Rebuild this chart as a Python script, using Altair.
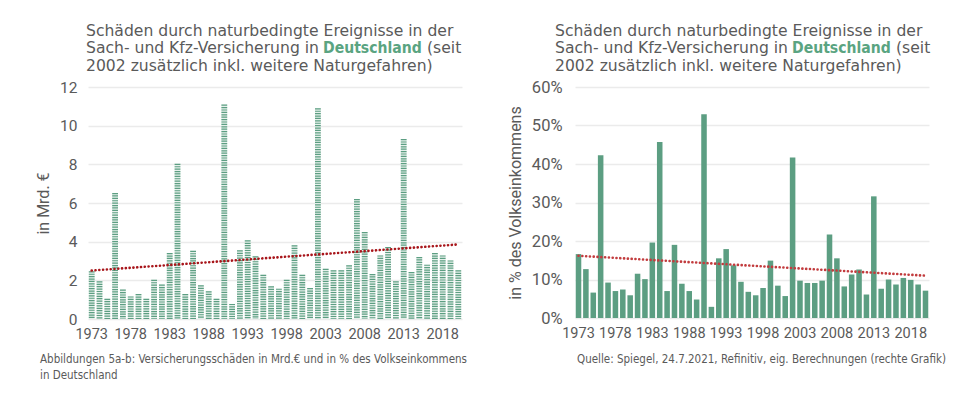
import altair as alt
import pandas as pd

years = list(range(1973, 2021))
schaeden_mrd = [2.47, 1.95, 1.05, 6.52, 1.52, 1.17, 1.29, 1.05, 2.03, 1.78,
                3.41, 8.03, 1.29, 3.53, 1.74, 1.43, 1.05, 11.09, 0.78, 3.55,
                4.07, 3.24, 2.29, 1.69, 1.57, 2.03, 3.81, 2.29, 1.60, 10.9,
                2.60, 2.52, 2.52, 2.78, 6.21, 4.50, 2.33, 3.29, 3.72, 1.95,
                9.31, 2.43, 3.21, 2.81, 3.41, 3.29, 3.03, 2.52]
schaeden_pct = [16.6, 12.7, 6.6, 42.3, 9.2, 7.0, 7.4, 5.9, 11.5, 10.1,
                19.6, 45.7, 7.0, 19.0, 8.9, 7.0, 4.8, 52.9, 2.9, 15.5,
                17.9, 13.7, 9.4, 6.8, 5.9, 7.8, 14.9, 8.4, 5.7, 41.7,
                9.7, 9.1, 9.1, 9.7, 21.7, 15.5, 8.2, 11.3, 12.6, 6.1,
                31.6, 7.6, 10.0, 8.7, 10.4, 9.9, 8.7, 7.1]
x_ticks = [1973, 1978, 1983, 1988, 1993, 1998, 2003, 2008, 2013, 2018]
left_y_ticks = [0, 2, 4, 6, 8, 10, 12]
right_y_ticks = [0, 10, 20, 30, 40, 50, 60]

title_l1 = "Schäden durch naturbedingte Ereignisse in der"
title_l2a = "Sach- und Kfz-Versicherung in"
title_l2b = "Deutschland"
title_l2c = "(seit"
title_l3 = "2002 zusätzlich inkl. weitere Naturgefahren)"
footer_left = ["Abbildungen 5a-b: Versicherungsschäden in Mrd.€ und in % des Volkseinkommens",
               "in Deutschland"]
footer_right = ["Quelle: Spiegel, 24.7.2021, Refinitiv, eig. Berechnungen (rechte Grafik)"]

GREEN = "#5c9e82"
TITLE_GREEN = "#5aa481"
TEXT = "#5a5a5a"
GRID = "#ebebeb"
FONT = "Roboto"
TITLE_FONT = "DejaVu Sans"
BOLD_FONT = "DejaVu Sans Condensed"
TITLE_SIZE = 15.6
FOOT_FONT = "DejaVu Sans Condensed"


def x_enc():
    return alt.X("Jahr:O",
                 scale=alt.Scale(paddingInner=0.25, paddingOuter=0.1),
                 axis=alt.Axis(values=x_ticks, labelAngle=0, title=None, domain=False,
                               ticks=False, grid=False, labelFontSize=14.5,
                               labelPadding=8, labelColor=TEXT, labelFont=FONT))


def y_enc(domain, ticks, title, expr, lsize, lpad):
    axis_kw = dict(values=ticks, title=title, domain=False, ticks=False,
                   grid=True, gridColor=GRID, gridWidth=1.5, labelFontSize=lsize,
                   labelPadding=lpad, labelColor=TEXT, labelFont=FONT, labelOverlap=False,
                   titleFontSize=16, titleFontWeight="normal", titleColor=TEXT,
                   titleFont=FONT, titlePadding=8)
    if expr:
        axis_kw["labelExpr"] = expr
    return alt.Y("Wert:Q", scale=alt.Scale(domain=domain), axis=alt.Axis(**axis_kw))


def text_layer(line, x, y, size, font, color=TEXT, weight="normal"):
    df = pd.DataFrame({"t": [line]})
    return alt.Chart(df).mark_text(align="left", baseline="alphabetic", fontSize=size,
                                   font=font, color=color, fontWeight=weight).encode(
        text="t:N", x=alt.value(x), y=alt.value(y))


def titles(x0, y0):
    xb = x0 + 237
    xc = xb + 104
    return [
        text_layer(title_l1, x0, y0, TITLE_SIZE, TITLE_FONT),
        text_layer(title_l2a, x0, y0 + 17.6, TITLE_SIZE, TITLE_FONT),
        text_layer(title_l2b, xb, y0 + 17.6, TITLE_SIZE, BOLD_FONT, color=TITLE_GREEN, weight="bold"),
        text_layer(title_l2c, xc, y0 + 17.6, TITLE_SIZE, TITLE_FONT),
        text_layer(title_l3, x0, y0 + 35.2, TITLE_SIZE, TITLE_FONT),
    ]


def footers(lines, x0, y0):
    return [text_layer(ln, x0, y0 + k * 16, 11.5, FOOT_FONT) for k, ln in enumerate(lines)]


# ---------- left panel ----------
df_left = pd.DataFrame({"Jahr": years, "Wert": schaeden_mrd})
yl = y_enc([0, 12], left_y_ticks, "in Mrd. €", None, 15.5, 11)
left_base = alt.Chart(df_left)
left_fill = left_base.mark_bar(color="#e6f0eb").encode(x=x_enc(), y=yl)
left_bars = left_base.mark_rule(color=GREEN, strokeWidth=5.8, strokeDash=[1.2, 1.2]).encode(
    x=x_enc(), y=yl, y2=alt.datum(0))
left_trend = left_base.transform_regression("Jahr", "Wert").mark_line(
    color="#a8161b", strokeWidth=2.6, strokeDash=[0.1, 3.7], strokeCap="round").encode(
    x=x_enc(), y=yl)

left = alt.layer(left_fill, left_bars, left_trend,
                 *titles(-2, -51.3),
                 *footers(footer_left, -48, 276)).properties(width=374, height=232)

# ---------- right panel ----------
df_right = pd.DataFrame({"Jahr": years, "Wert": schaeden_pct})
yr = y_enc([0, 60], right_y_ticks, "in % des Volkseinkommens", "datum.value + '%'", 16.5, 13)
right_base = alt.Chart(df_right)
right_bars = right_base.mark_bar(color=GREEN).encode(x=x_enc(), y=yr)
right_trend = right_base.transform_regression("Jahr", "Wert").mark_line(
    color="#c23c3e", strokeWidth=2.6, strokeDash=[0.1, 3.7], strokeCap="round").encode(
    x=x_enc(), y=yr)

right = alt.layer(right_bars, right_trend,
                  *titles(-20, -51.3),
                  *footers(footer_right, 2, 276)).properties(width=354, height=231)

chart = alt.hconcat(left, right, spacing=40).properties(
    padding={"left": 27, "top": 15, "right": 5, "bottom": 5}
).configure_view(stroke=None)

chart.save("out.html", embed_options={"renderer": "svg", "actions": False})
